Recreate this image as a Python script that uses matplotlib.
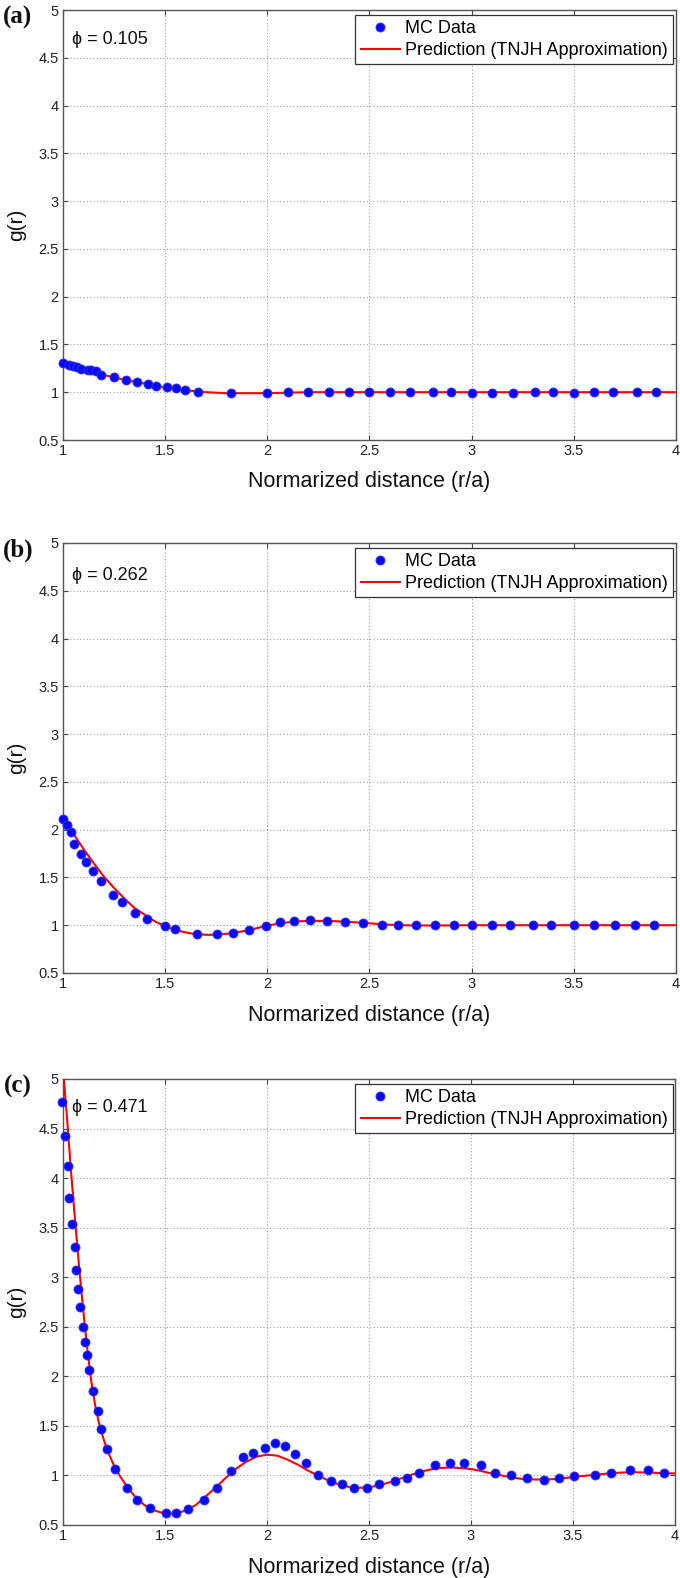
import matplotlib
matplotlib.use("Agg")
import matplotlib.pyplot as plt

# ---------------- data ----------------
panel_labels = ["(a)", "(b)", "(c)"]
phi_labels = ["\u03d5 = 0.105", "\u03d5 = 0.262", "\u03d5 = 0.471"]
legend_labels = ["MC Data", "Prediction (TNJH Approximation)"]
x_label = "Normarized distance (r/a)"
y_label = "g(r)"
x_ticks = [1, 1.5, 2, 2.5, 3, 3.5, 4]
x_tick_labels = ["1", "1.5", "2", "2.5", "3", "3.5", "4"]
y_ticks = [0.5, 1, 1.5, 2, 2.5, 3, 3.5, 4, 4.5, 5]
y_tick_labels = ["0.5", "1", "1.5", "2", "2.5", "3", "3.5", "4", "4.5", "5"]

# panel (a)  phi = 0.105
a_mc_x = [1.0, 1.03, 1.05, 1.07, 1.09, 1.12, 1.135, 1.16, 1.185, 1.25, 1.31, 1.36,
          1.415, 1.455, 1.51, 1.555, 1.595, 1.66, 1.82, 2.0, 2.1, 2.2, 2.3, 2.4,
          2.5, 2.6, 2.7, 2.81, 2.9, 3.0, 3.1, 3.2, 3.31, 3.4, 3.5, 3.6, 3.69,
          3.81, 3.9]
a_mc_y = [1.31, 1.28, 1.27, 1.26, 1.245, 1.235, 1.23, 1.22, 1.18, 1.16, 1.13, 1.11,
          1.09, 1.06, 1.05, 1.04, 1.02, 1.0, 0.99, 0.99, 1.0, 1.0, 1.005, 1.005,
          1.005, 1.0, 1.0, 1.0, 1.0, 0.995, 0.995, 0.995, 1.0, 1.0, 0.995, 1.0, 1.0,
          1.0, 1.0]
a_fit_x = [1.0, 1.1, 1.2, 1.3, 1.4, 1.5, 1.6, 1.7, 1.8, 1.9, 2.0, 2.2, 2.5, 3.0, 4.0]
a_fit_y = [1.31, 1.25, 1.18, 1.13, 1.09, 1.05, 1.02, 1.0, 0.99, 0.99, 0.99, 1.0, 1.0, 1.0, 1.0]

# panel (b)  phi = 0.262
b_mc_x = [1.0, 1.02, 1.04, 1.055, 1.09, 1.115, 1.145, 1.185, 1.245, 1.29, 1.35, 1.41,
          1.5, 1.55, 1.655, 1.755, 1.83, 1.91, 1.995, 2.06, 2.13, 2.21, 2.29, 2.38,
          2.47, 2.56, 2.64, 2.73, 2.82, 2.915, 3.0, 3.1, 3.19, 3.3, 3.39, 3.5, 3.6,
          3.7, 3.8, 3.89]
b_mc_y = [2.11, 2.05, 1.98, 1.85, 1.75, 1.66, 1.57, 1.46, 1.32, 1.24, 1.13, 1.06,
          0.99, 0.96, 0.91, 0.905, 0.915, 0.95, 0.99, 1.03, 1.045, 1.055, 1.045, 1.035,
          1.02, 1.0, 1.0, 1.0, 1.0, 1.0, 1.0, 1.0, 1.0, 1.0, 1.0, 1.0, 1.0,
          1.0, 1.0, 1.0]
b_fit_x = [1.0, 1.05, 1.1, 1.15, 1.2, 1.25, 1.3, 1.35, 1.4, 1.45, 1.5, 1.55, 1.6, 1.65,
           1.7, 1.75, 1.8, 1.85, 1.9, 1.95, 2.0, 2.05, 2.1, 2.15, 2.2, 2.3, 2.4, 2.5,
           2.6, 2.7, 2.8, 3.0, 4.0]
b_fit_y = [2.12, 1.96, 1.80, 1.65, 1.51, 1.39, 1.28, 1.18, 1.11, 1.04, 0.99, 0.95, 0.925,
           0.905, 0.90, 0.90, 0.91, 0.925, 0.945, 0.97, 0.995, 1.015, 1.03, 1.04, 1.045,
           1.045, 1.035, 1.02, 1.005, 0.998, 0.997, 1.0, 1.0]

# panel (c)  phi = 0.471
c_mc_x = [0.995, 1.008, 1.025, 1.03, 1.046, 1.057, 1.066, 1.072, 1.082, 1.097, 1.11,
          1.118, 1.127, 1.146, 1.173, 1.184, 1.217, 1.253, 1.316, 1.365, 1.428, 1.505,
          1.554, 1.612, 1.69, 1.757, 1.822, 1.883, 1.933, 1.99, 2.04, 2.086, 2.135,
          2.19, 2.25, 2.316, 2.37, 2.428, 2.492, 2.549, 2.625, 2.687, 2.747, 2.825,
          2.898, 2.966, 3.047, 3.12, 3.198, 3.274, 3.358, 3.431, 3.504, 3.606, 3.685,
          3.78, 3.866, 3.944]
c_mc_y = [4.77, 4.42, 4.12, 3.80, 3.54, 3.30, 3.07, 2.88, 2.70, 2.50, 2.35,
          2.22, 2.06, 1.85, 1.65, 1.47, 1.27, 1.07, 0.876, 0.75, 0.67, 0.625,
          0.625, 0.66, 0.75, 0.876, 1.04, 1.19, 1.225, 1.275, 1.33, 1.30, 1.22,
          1.13, 1.0, 0.943, 0.91, 0.876, 0.876, 0.91, 0.94, 0.973, 1.027, 1.107,
          1.128, 1.128, 1.107, 1.027, 1.0, 0.973, 0.956, 0.973, 0.99, 1.0, 1.027,
          1.05, 1.05, 1.027]
c_fit_x = [1.0, 1.02, 1.04, 1.06, 1.08, 1.1, 1.12, 1.14, 1.16, 1.18, 1.2, 1.22, 1.25,
           1.28, 1.32, 1.36, 1.4, 1.45, 1.5, 1.55, 1.6, 1.65, 1.7, 1.75, 1.8, 1.85,
           1.9, 1.95, 2.0, 2.05, 2.1, 2.15, 2.2, 2.25, 2.3, 2.35, 2.4, 2.45, 2.5,
           2.55, 2.6, 2.65, 2.7, 2.75, 2.8, 2.85, 2.9, 2.95, 3.0, 3.05, 3.1, 3.15,
           3.2, 3.25, 3.3, 3.35, 3.4, 3.45, 3.5, 3.55, 3.6, 3.65, 3.7, 3.75, 3.8,
           3.85, 3.9, 3.95, 4.0]
c_fit_y = [5.1, 4.6, 4.05, 3.55, 3.08, 2.65, 2.26, 1.93, 1.68, 1.50, 1.36, 1.24, 1.10,
           0.99, 0.87, 0.77, 0.70, 0.645, 0.615, 0.615, 0.645, 0.70, 0.79, 0.88, 0.98,
           1.07, 1.14, 1.19, 1.21, 1.20, 1.16, 1.11, 1.05, 1.0, 0.95, 0.91, 0.885,
           0.875, 0.88, 0.90, 0.93, 0.965, 1.0, 1.035, 1.06, 1.075, 1.08, 1.075, 1.065,
           1.045, 1.02, 1.0, 0.98, 0.965, 0.96, 0.958, 0.962, 0.97, 0.985, 0.995,
           1.005, 1.015, 1.025, 1.03, 1.032, 1.03, 1.027, 1.022, 1.02]

panels = [
    (a_mc_x, a_mc_y, a_fit_x, a_fit_y),
    (b_mc_x, b_mc_y, b_fit_x, b_fit_y),
    (c_mc_x, c_mc_y, c_fit_x, c_fit_y),
]

# ---------------- layout (pixel boxes: left, top, right, bottom) ----------------
W, H = 680, 1578
boxes = [(63, 10, 676, 440), (63, 543, 676, 973), (63, 1079, 675, 1525)]
label_centers_y = [17, 550, 1086]
phi_centers_y = [40, 575, 1108]

SANS = ["Liberation Sans", "DejaVu Sans"]
plt.rcParams["font.family"] = SANS

fig = plt.figure(figsize=(W / 100, H / 100), dpi=100)
fig.patch.set_facecolor("white")

for i, (mx, my, fx, fy) in enumerate(panels):
    l, t, r, b = boxes[i]
    ax = fig.add_axes([l / W, 1 - b / H, (r - l) / W, (b - t) / H])
    wpx, hpx = r - l, b - t

    ax.plot(mx, my, linestyle="none", marker="o", ms=6.5, color="#0a0af0",
            mec="#3030ff", mew=0.6, zorder=4, clip_on=False, label=legend_labels[0])
    ax.plot(fx, fy, color="#ff0000", lw=1.5, zorder=3, label=legend_labels[1])

    ax.set_xlim(1, 4)
    ax.set_ylim(0.5, 5)
    ax.set_xticks(x_ticks)
    ax.set_xticklabels(x_tick_labels)
    ax.set_yticks(y_ticks)
    ax.set_yticklabels(y_tick_labels)
    ax.tick_params(direction="in", length=3.6, width=0.8, color="#444444",
                   top=True, right=True, labelsize=10.5, labelcolor="#222222", pad=3)
    ax.grid(True, linestyle=(0, (1, 2)), color="#a0a0a0", linewidth=0.8)
    ax.set_axisbelow(True)
    for sp in ax.spines.values():
        sp.set_color("#555555")
        sp.set_linewidth(1.0)

    ax.set_xlabel(x_label, fontsize=15.5, va="center", color="#111111")
    ax.xaxis.set_label_coords(0.5, -42 / hpx)
    ax.set_ylabel(y_label, fontsize=15, va="center", color="#111111")
    ax.yaxis.set_label_coords(-46 / wpx, 0.5)

    ax.text(72 / W, 1 - phi_centers_y[i] / H, phi_labels[i], transform=fig.transFigure,
            fontsize=13, ha="left", va="center", color="#111111", family=SANS)

    fig.text(18 / W, 1 - label_centers_y[i] / H, panel_labels[i], fontsize=18,
             fontweight="bold", family=["Liberation Serif", "DejaVu Serif"],
             ha="center", va="center", color="#111111")

    leg = ax.legend(loc="upper right", bbox_to_anchor=(673 / W, 1 - (t + 5) / H),
                    bbox_transform=fig.transFigure, borderaxespad=0, fontsize=13,
                    fancybox=False, framealpha=1, edgecolor="#333333",
                    handlelength=2.2, handletextpad=0.25, borderpad=0.3,
                    labelspacing=0.25, numpoints=1)
    leg.get_frame().set_linewidth(0.9)

fig.savefig("out.png", dpi=100)
